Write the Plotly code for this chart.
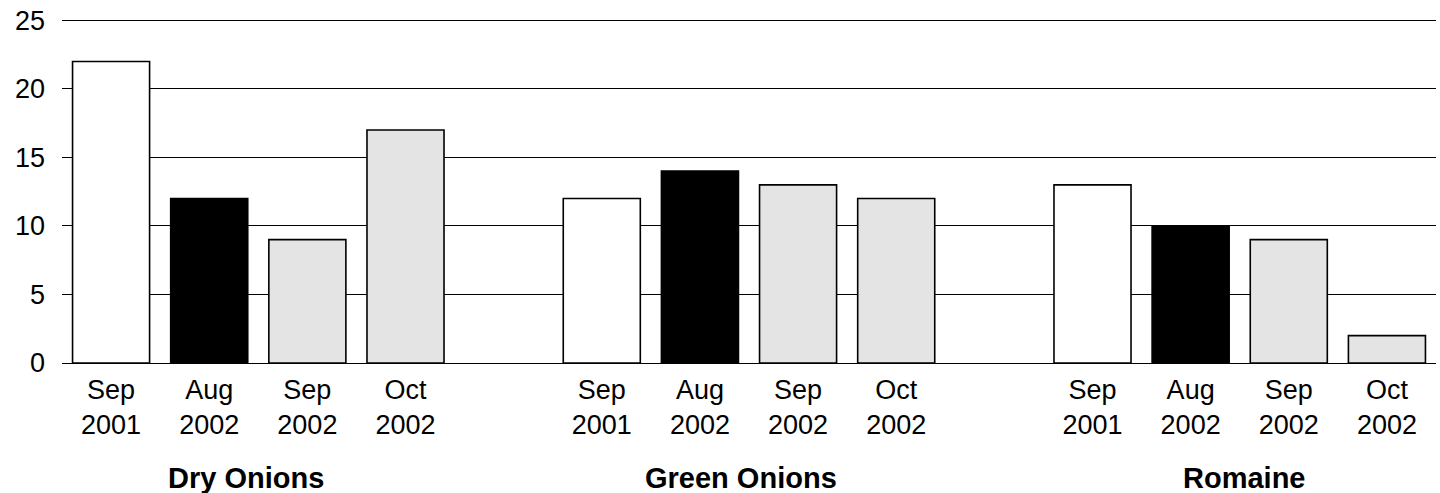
import plotly.graph_objects as go

groups = ["Dry Onions", "Green Onions", "Romaine"]
periods = ["Sep<br>2001", "Aug<br>2002", "Sep<br>2002", "Oct<br>2002"]
sep_2001 = [22, 12, 13]
aug_2002 = [12, 14, 10]
sep_2002 = [9, 13, 9]
oct_2002 = [17, 12, 2]
y_ticks = [0, 5, 10, 15, 20, 25]

series = [sep_2001, aug_2002, sep_2002, oct_2002]
colors = ["#ffffff", "#000000", "#e4e4e4", "#e4e4e4"]

FONT = "Arial, Liberation Sans, sans-serif"
fig = go.Figure()
tickvals, ticktext = [], []
for pi, vals in enumerate(series):
    xs = [gi * 5 + pi for gi in range(len(groups))]
    fig.add_trace(go.Bar(
        x=xs, y=vals, width=0.785,
        marker=dict(color=colors[pi], line=dict(color="#000000", width=1.6)),
        showlegend=False, hoverinfo="y",
    ))
    tickvals += xs
    ticktext += [periods[pi]] * len(xs)

label_shift = (-12, -8, 4)
for gi, g in enumerate(groups):
    fig.add_annotation(x=gi * 5 + 1.5, y=-0.333, xref="x", yref="paper",
                       xshift=label_shift[gi],
                       text="<b>%s</b>" % g, showarrow=False,
                       font=dict(family=FONT, size=29, color="#000000"),
                       yanchor="middle")

fig.update_layout(
    width=1440, height=493,
    margin=dict(l=62, r=4, t=19, b=130, autoexpand=False),
    plot_bgcolor="#ffffff", paper_bgcolor="#ffffff",
    font=dict(family=FONT, size=27, color="#000000"),
    barmode="overlay",
    xaxis=dict(range=[-0.5, 13.5], tickvals=tickvals, ticktext=ticktext,
               showgrid=False, zeroline=False, showline=False, ticks="",
               tickfont=dict(size=27), automargin=False, ticklabelstandoff=8),
    yaxis=dict(range=[0, 25.1], tickvals=y_ticks, showgrid=True,
               gridcolor="#000000", gridwidth=1, zeroline=True,
               zerolinecolor="#000000", zerolinewidth=1, showline=False,
               ticks="", ticklabelstandoff=16, tickfont=dict(size=27),
               automargin=False),
)

fig.write_html("out.html", config={"displayModeBar": False},
               post_script="document.body.style.margin='0';")
